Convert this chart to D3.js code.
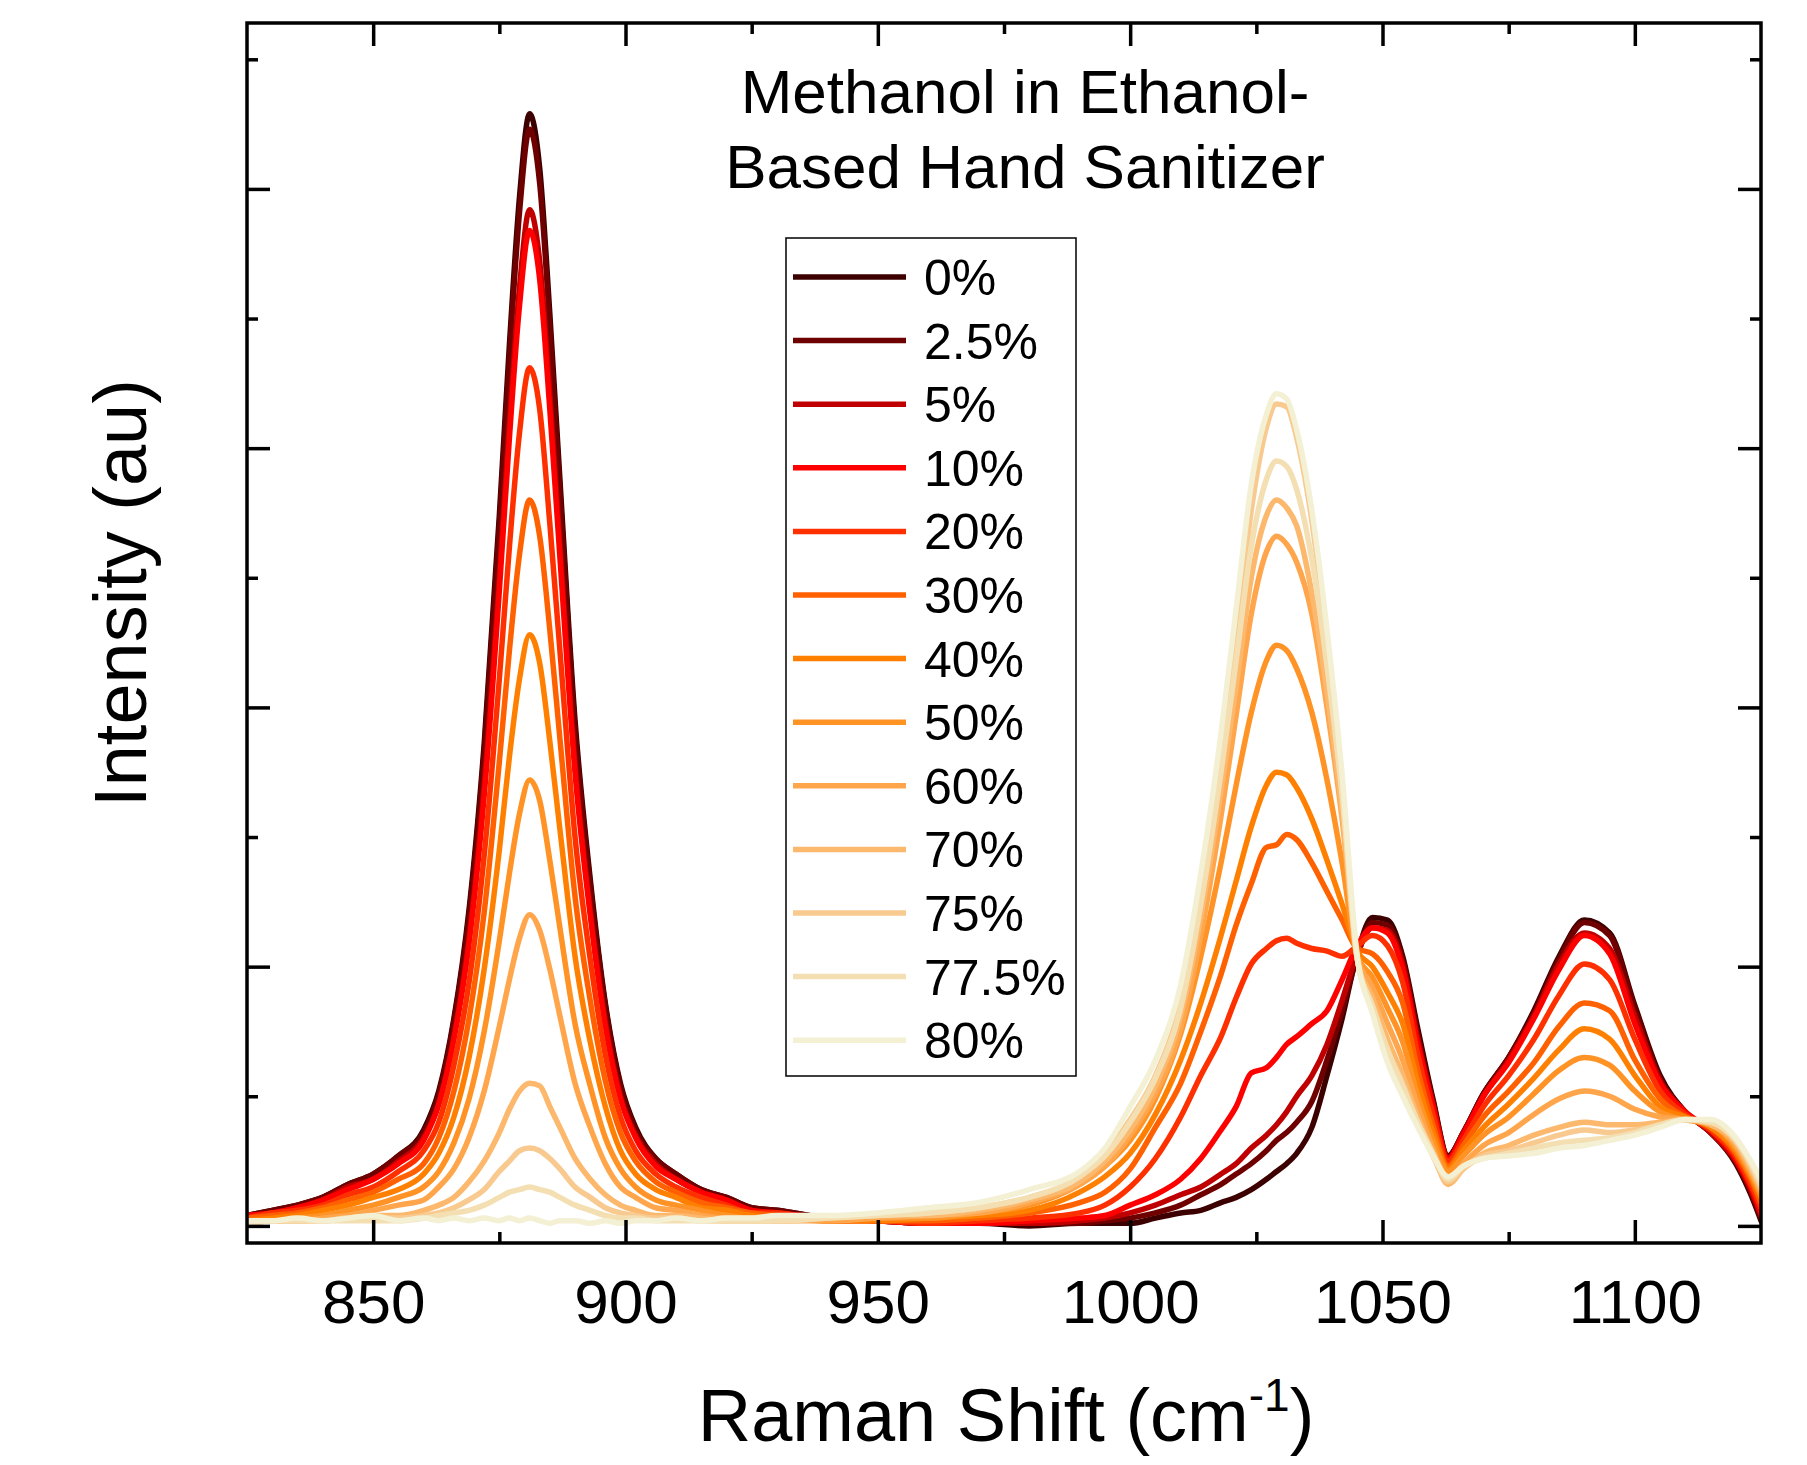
<!DOCTYPE html>
<html>
<head>
<meta charset="utf-8">
<script src="https://cdn.jsdelivr.net/npm/d3@7"></script>
<style>
  body { margin: 0; background: #ffffff; }
  text { font-family: "Liberation Sans", Arial, Helvetica, sans-serif; fill: #000; }
</style>
</head>
<body>
<svg id="chart" width="1807" height="1465"></svg>
<script>
// ---------------- DATA ----------------
const wavenumbers = [825,830,835,840,845,850,855,860,863,866,869,872,875,877,879,881,883,885,887,890,893,896,899,902,906,910,915,920,925,930,
  940,950,960,970,980,990,995,
  1000,1005,1010,1014,1018,1021,1024,1027,1029,1031,1033,1036,1039,1042,1045,
  1048,1051,1054,1057,1060,1063,
  1066,1070,1075,1080,1085,1090,1095,1100,1105,1110,1115,1120,1123,1125];

const concentrations = ["0%","2.5%","5%","10%","20%","30%","40%","50%","60%","70%","75%","77.5%","80%"];

const s0 = [0.04,0.06,0.08,0.11,0.16,0.20,0.27,0.37,0.52,0.80,1.22,1.86,2.74,3.40,3.97,4.29,4.08,3.52,2.88,1.95,1.34,0.86,0.55,0.38,0.26,0.20,0.14,0.11,0.07,0.06,
  0.03,0.02,0.01,0.01,0.00,0.01,0.01,
  0.01,0.03,0.05,0.06,0.09,0.11,0.14,0.18,0.21,0.24,0.28,0.38,0.58,0.80,1.05,
  1.19,1.18,1.04,0.76,0.49,0.27,
  0.36,0.51,0.65,0.83,1.04,1.18,1.13,0.85,0.58,0.44,0.36,0.24,0.12,0.02];
const s2_5 = [0.04,0.06,0.08,0.11,0.16,0.20,0.27,0.36,0.51,0.79,1.20,1.83,2.70,3.35,3.91,4.23,4.02,3.47,2.84,1.92,1.32,0.85,0.54,0.37,0.26,0.20,0.14,0.11,0.07,0.06,
  0.03,0.02,0.01,0.01,0.01,0.01,0.02,
  0.03,0.05,0.08,0.12,0.16,0.20,0.24,0.29,0.33,0.36,0.40,0.48,0.64,0.83,1.04,
  1.17,1.16,1.03,0.74,0.48,0.27,
  0.36,0.51,0.65,0.82,1.03,1.17,1.12,0.84,0.57,0.44,0.36,0.25,0.13,0.03];
const s5 = [0.04,0.05,0.07,0.10,0.15,0.18,0.25,0.34,0.47,0.73,1.11,1.70,2.50,3.10,3.62,3.92,3.72,3.21,2.63,1.78,1.22,0.79,0.50,0.35,0.24,0.18,0.13,0.10,0.06,0.05,
  0.03,0.02,0.01,0.01,0.01,0.02,0.03,
  0.05,0.08,0.12,0.15,0.20,0.24,0.30,0.35,0.39,0.44,0.50,0.58,0.70,0.87,1.05,
  1.15,1.14,1.01,0.72,0.47,0.26,
  0.36,0.50,0.64,0.81,1.01,1.13,1.07,0.81,0.56,0.44,0.36,0.25,0.14,0.04];
const s10 = [0.04,0.05,0.07,0.10,0.14,0.18,0.24,0.33,0.47,0.72,1.09,1.66,2.45,3.04,3.55,3.84,3.65,3.15,2.58,1.75,1.20,0.77,0.49,0.34,0.23,0.18,0.13,0.10,0.06,0.05,
  0.03,0.02,0.01,0.01,0.02,0.03,0.04,
  0.08,0.12,0.18,0.26,0.37,0.46,0.59,0.61,0.65,0.70,0.73,0.78,0.83,0.95,1.08,
  1.15,1.13,0.99,0.70,0.46,0.26,
  0.35,0.50,0.63,0.80,0.99,1.12,1.05,0.78,0.55,0.44,0.37,0.26,0.15,0.05];
const s20 = [0.03,0.05,0.06,0.08,0.12,0.15,0.21,0.29,0.40,0.62,0.94,1.43,2.11,2.62,3.06,3.31,3.15,2.71,2.22,1.50,1.03,0.66,0.42,0.29,0.20,0.15,0.11,0.08,0.05,0.05,
  0.02,0.02,0.01,0.02,0.03,0.05,0.08,
  0.15,0.26,0.42,0.58,0.73,0.88,1.01,1.07,1.10,1.11,1.09,1.07,1.06,1.04,1.08,
  1.12,1.08,0.94,0.66,0.43,0.25,
  0.33,0.46,0.58,0.72,0.89,1.01,0.95,0.72,0.52,0.43,0.37,0.27,0.16,0.07];
const s30 = [0.03,0.04,0.05,0.07,0.10,0.13,0.18,0.24,0.34,0.52,0.80,1.21,1.79,2.22,2.59,2.80,2.66,2.30,1.88,1.27,0.87,0.56,0.36,0.25,0.17,0.13,0.09,0.07,0.05,0.04,
  0.02,0.02,0.02,0.03,0.05,0.09,0.13,
  0.22,0.38,0.55,0.75,0.97,1.16,1.32,1.46,1.47,1.51,1.49,1.40,1.29,1.18,1.07,
  1.05,0.98,0.86,0.60,0.39,0.23,
  0.31,0.42,0.52,0.63,0.77,0.86,0.83,0.64,0.49,0.42,0.38,0.28,0.18,0.09];
const s40 = [0.02,0.03,0.04,0.06,0.08,0.11,0.14,0.20,0.28,0.42,0.65,0.99,1.45,1.81,2.11,2.28,2.17,1.87,1.53,1.04,0.71,0.46,0.29,0.20,0.14,0.11,0.07,0.06,0.04,0.03,
  0.02,0.02,0.03,0.04,0.06,0.13,0.19,
  0.28,0.43,0.64,0.86,1.12,1.33,1.54,1.70,1.75,1.74,1.69,1.57,1.41,1.24,1.06,
  1.00,0.90,0.78,0.55,0.36,0.22,
  0.29,0.38,0.47,0.57,0.68,0.76,0.72,0.58,0.46,0.42,0.38,0.29,0.19,0.11];
const s50 = [0.02,0.02,0.03,0.04,0.06,0.08,0.11,0.15,0.21,0.32,0.49,0.75,1.10,1.36,1.59,1.72,1.64,1.41,1.15,0.78,0.54,0.34,0.22,0.15,0.10,0.08,0.06,0.04,0.03,0.03,
  0.02,0.03,0.03,0.05,0.08,0.16,0.23,
  0.33,0.49,0.74,1.04,1.40,1.70,1.98,2.18,2.24,2.22,2.15,1.98,1.72,1.40,1.04,
  0.96,0.84,0.71,0.50,0.33,0.21,
  0.27,0.35,0.42,0.51,0.60,0.65,0.62,0.52,0.44,0.41,0.39,0.30,0.20,0.12];
const s60 = [0.01,0.02,0.02,0.03,0.04,0.06,0.08,0.10,0.15,0.22,0.34,0.52,0.77,0.95,1.11,1.20,1.14,0.99,0.81,0.55,0.38,0.24,0.15,0.11,0.07,0.06,0.04,0.03,0.03,0.02,
  0.02,0.03,0.04,0.05,0.09,0.16,0.23,
  0.35,0.51,0.76,1.12,1.58,1.97,2.36,2.60,2.66,2.63,2.56,2.36,2.00,1.57,1.04,
  0.92,0.78,0.64,0.46,0.30,0.18,
  0.24,0.31,0.36,0.43,0.49,0.52,0.50,0.45,0.42,0.41,0.39,0.31,0.21,0.13];
const s70 = [0.01,0.02,0.02,0.02,0.03,0.04,0.04,0.06,0.08,0.11,0.17,0.25,0.36,0.45,0.52,0.55,0.54,0.46,0.38,0.26,0.18,0.12,0.08,0.06,0.04,0.04,0.03,0.02,0.02,0.02,
  0.03,0.04,0.04,0.06,0.10,0.17,0.25,
  0.37,0.54,0.81,1.19,1.68,2.08,2.50,2.74,2.80,2.77,2.70,2.44,2.06,1.60,1.03,
  0.88,0.72,0.58,0.42,0.28,0.16,
  0.22,0.28,0.31,0.35,0.38,0.40,0.39,0.39,0.40,0.41,0.39,0.32,0.22,0.14];
const s75 = [0.02,0.02,0.02,0.02,0.03,0.03,0.03,0.04,0.05,0.07,0.10,0.14,0.21,0.25,0.29,0.30,0.29,0.26,0.22,0.15,0.11,0.07,0.05,0.04,0.03,0.03,0.02,0.02,0.02,0.02,
  0.03,0.04,0.05,0.07,0.11,0.19,0.28,
  0.41,0.58,0.86,1.27,1.80,2.27,2.76,3.08,3.17,3.16,3.04,2.72,2.25,1.70,1.03,
  0.85,0.68,0.55,0.40,0.27,0.17,
  0.22,0.27,0.29,0.32,0.35,0.37,0.36,0.37,0.39,0.41,0.40,0.33,0.23,0.15];
const s77_5 = [0.01,0.02,0.02,0.02,0.02,0.02,0.02,0.03,0.04,0.05,0.06,0.08,0.11,0.13,0.14,0.15,0.14,0.13,0.11,0.08,0.06,0.04,0.03,0.03,0.02,0.02,0.02,0.02,0.02,0.02,
  0.03,0.04,0.05,0.07,0.11,0.19,0.27,
  0.40,0.57,0.84,1.24,1.75,2.18,2.62,2.88,2.95,2.93,2.84,2.57,2.16,1.66,1.03,
  0.85,0.68,0.54,0.40,0.28,0.18,
  0.23,0.26,0.28,0.30,0.32,0.33,0.34,0.36,0.39,0.41,0.40,0.33,0.24,0.16];
const s80 = [0.02,0.02,0.03,0.02,0.03,0.04,0.02,0.03,0.02,0.03,0.02,0.03,0.02,0.03,0.02,0.03,0.02,0.01,0.02,0.02,0.01,0.02,0.01,0.02,0.02,0.03,0.02,0.03,0.03,0.04,
  0.04,0.05,0.07,0.09,0.14,0.21,0.30,
  0.46,0.64,0.93,1.36,1.90,2.38,2.86,3.13,3.21,3.19,3.07,2.76,2.30,1.74,1.04,
  0.82,0.63,0.50,0.38,0.27,0.19,
  0.23,0.26,0.27,0.28,0.30,0.31,0.33,0.35,0.38,0.41,0.41,0.34,0.25,0.18];

const xMajorTicks = [850, 900, 950, 1000, 1050, 1100];
const xMinorTicks = [875, 925, 975, 1025, 1075];
const yMajorTicks = [0, 1, 2, 3, 4];
const yMinorTicks = [0.5, 1.5, 2.5, 3.5, 4.5];

const palette = ["#3d0000","#6e0000","#c00000","#ff0000","#ff3000","#ff6000","#ff8000",
                 "#ff9326","#ffa64d","#fcb86c","#f8ca8f","#f4dfb2","#f3f0d4"];

// ---------------- CHART ----------------
const seriesValues = [s0, s2_5, s5, s10, s20, s30, s40, s50, s60, s70, s75, s77_5, s80];
const series = concentrations.map((c, i) => ({
  label: c,
  color: palette[i],
  points: wavenumbers.map((w, j) => [w, seriesValues[i][j]])
}));

const W = 1807, H = 1465;
const plot = { left: 247, right: 1761, top: 23, bottom: 1243 };

const svg = d3.select("#chart");
svg.append("rect").attr("width", W).attr("height", H).attr("fill", "#fff");

const x = d3.scaleLinear().domain([825, 1125]).range([plot.left, plot.right]);
const y = d3.scaleLinear().domain([-0.066, 4.64]).range([plot.bottom, plot.top]);

svg.append("clipPath").attr("id", "clip")
  .append("rect")
  .attr("x", plot.left).attr("y", plot.top)
  .attr("width", plot.right - plot.left).attr("height", plot.bottom - plot.top);

const line = d3.line()
  .x(d => x(d[0]))
  .y(d => y(d[1]))
  .curve(d3.curveMonotoneX);

const gLines = svg.append("g").attr("clip-path", "url(#clip)");
gLines.selectAll("path")
  .data(series)
  .join("path")
  .attr("d", d => line(d.points))
  .attr("fill", "none")
  .attr("stroke", d => d.color)
  .attr("stroke-width", 5.5)
  .attr("stroke-linejoin", "round")
  .attr("stroke-linecap", "round");

// axes (ticks inward on all four sides)
function styleAxis(g) {
  g.select(".domain").remove();
  g.selectAll(".tick line").attr("stroke", "#000").attr("stroke-width", 3.5);
}
const majorLen = 23, minorLen = 11;

// bottom
svg.append("g").attr("transform", `translate(0,${plot.bottom})`)
  .call(d3.axisBottom(x).tickValues(xMajorTicks).tickSizeInner(-majorLen).tickSizeOuter(0).tickPadding(36).tickFormat(d3.format("d")))
  .call(styleAxis)
  .call(g => g.selectAll(".tick text")
      .attr("font-size", 62)
      .attr("font-family", '"Liberation Sans", Arial, sans-serif')
      .attr("fill", "#000"));
svg.append("g").attr("transform", `translate(0,${plot.bottom})`)
  .call(d3.axisBottom(x).tickValues(xMinorTicks).tickSizeInner(-minorLen).tickSizeOuter(0).tickFormat(""))
  .call(styleAxis);
// top
svg.append("g").attr("transform", `translate(0,${plot.top})`)
  .call(d3.axisTop(x).tickValues(xMajorTicks).tickSizeInner(-majorLen).tickSizeOuter(0).tickFormat(""))
  .call(styleAxis);
svg.append("g").attr("transform", `translate(0,${plot.top})`)
  .call(d3.axisTop(x).tickValues(xMinorTicks).tickSizeInner(-minorLen).tickSizeOuter(0).tickFormat(""))
  .call(styleAxis);
// left
svg.append("g").attr("transform", `translate(${plot.left},0)`)
  .call(d3.axisLeft(y).tickValues(yMajorTicks).tickSizeInner(-majorLen).tickSizeOuter(0).tickFormat(""))
  .call(styleAxis);
svg.append("g").attr("transform", `translate(${plot.left},0)`)
  .call(d3.axisLeft(y).tickValues(yMinorTicks).tickSizeInner(-minorLen).tickSizeOuter(0).tickFormat(""))
  .call(styleAxis);
// right
svg.append("g").attr("transform", `translate(${plot.right},0)`)
  .call(d3.axisRight(y).tickValues(yMajorTicks).tickSizeInner(-majorLen).tickSizeOuter(0).tickFormat(""))
  .call(styleAxis);
svg.append("g").attr("transform", `translate(${plot.right},0)`)
  .call(d3.axisRight(y).tickValues(yMinorTicks).tickSizeInner(-minorLen).tickSizeOuter(0).tickFormat(""))
  .call(styleAxis);

// frame
svg.append("rect")
  .attr("x", plot.left).attr("y", plot.top)
  .attr("width", plot.right - plot.left).attr("height", plot.bottom - plot.top)
  .attr("fill", "none").attr("stroke", "#000").attr("stroke-width", 3.5);

// axis titles
const xt = svg.append("text")
  .attr("x", (plot.left + plot.right) / 2 + 2)
  .attr("y", 1441)
  .attr("text-anchor", "middle")
  .attr("font-size", 74);
xt.append("tspan").text("Raman Shift (cm");
xt.append("tspan").text("-1").attr("font-size", 46).attr("dy", -30);
xt.append("tspan").text(")").attr("dy", 30);

svg.append("text")
  .attr("transform", "translate(146,593) rotate(-90)")
  .attr("text-anchor", "middle")
  .attr("font-size", 74)
  .text("Intensity (au)");

// chart title
const title = svg.append("text").attr("text-anchor", "middle").attr("font-size", 62);
title.append("tspan").attr("x", 1025).attr("y", 113).text("Methanol in Ethanol-");
title.append("tspan").attr("x", 1025).attr("y", 188).text("Based Hand Sanitizer");

// legend
const legend = { x: 786, y: 238, w: 290, h: 838, row0: 277, rowStep: 63.6 };
svg.append("rect")
  .attr("x", legend.x).attr("y", legend.y)
  .attr("width", legend.w).attr("height", legend.h)
  .attr("fill", "#fff").attr("stroke", "#000").attr("stroke-width", 1.5);
const lg = svg.append("g");
const rows = lg.selectAll("g").data(series).join("g")
  .attr("transform", (d, i) => `translate(0,${legend.row0 + i * legend.rowStep})`);
rows.append("line")
  .attr("x1", 793).attr("x2", 906).attr("y1", 0).attr("y2", 0)
  .attr("stroke", d => d.color).attr("stroke-width", 5.5);
rows.append("text")
  .attr("x", 924).attr("y", 18)
  .attr("font-size", 50)
  .text(d => d.label);
</script>
</body>
</html>
